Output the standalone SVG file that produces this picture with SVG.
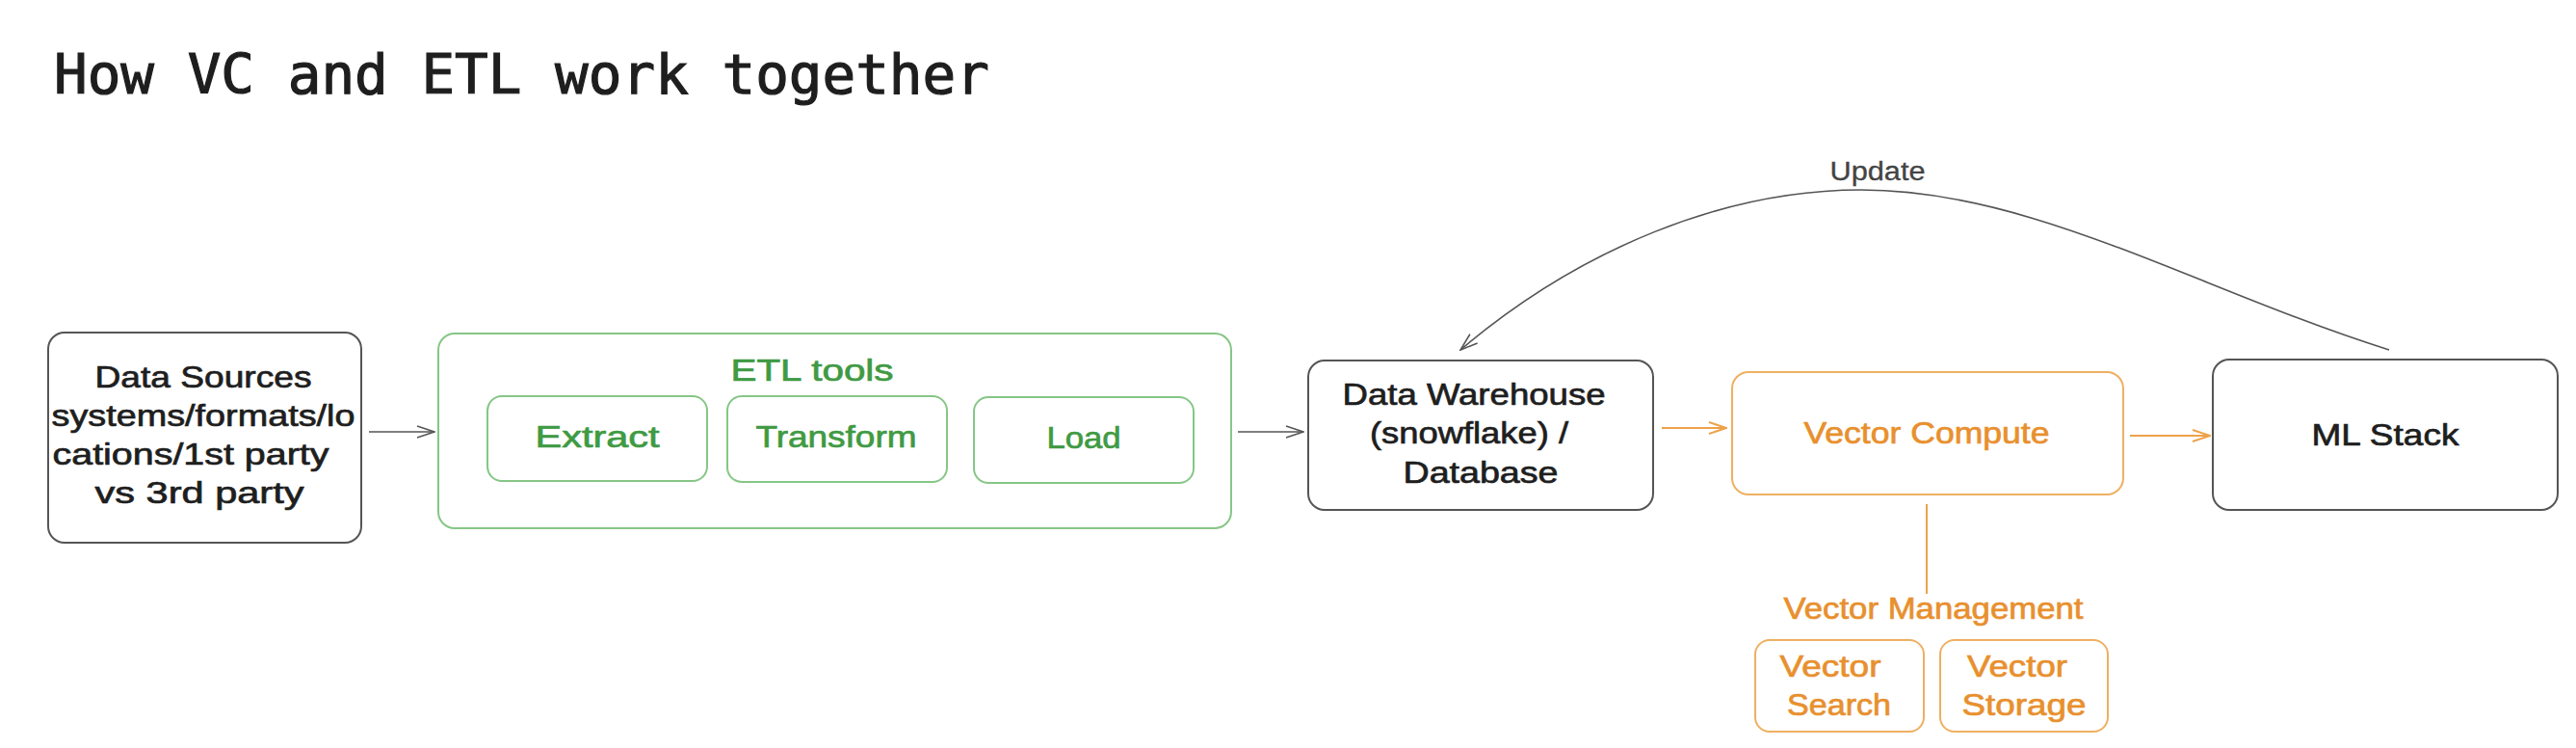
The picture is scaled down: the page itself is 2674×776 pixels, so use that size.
<svg xmlns="http://www.w3.org/2000/svg" width="2674" height="776" viewBox="0 0 2674 776">
<style>
.bg{fill:#ffffff}
.box{fill:#ffffff;stroke:#555555;stroke-width:2}
.gbox{fill:none;stroke:#86c686;stroke-width:2}
.obox{fill:none;stroke:#eeb062;stroke-width:2}
.t{font-family:"Liberation Sans",Arial,sans-serif;font-size:32px;fill:#1e1e1e;stroke:#1e1e1e;stroke-width:0.7;text-anchor:middle}
.g{fill:#3f9a43;stroke:#3f9a43}
.o{fill:#e8902e;stroke:#e8902e}
.title{font-family:"DejaVu Sans Mono",monospace;font-size:57.6px;fill:#1e1e1e;stroke:#1e1e1e;stroke-width:1.2}
.upd{font-size:27px;fill:#444444;stroke:#444444;stroke-width:0.3}
.ar{fill:none;stroke:#555555;stroke-width:1.6}
.oar{fill:none;stroke:#eda24a;stroke-width:2}
</style>
<defs>
<marker id="ah" viewBox="0 0 20 14" refX="19" refY="7" markerWidth="20" markerHeight="14" markerUnits="userSpaceOnUse" orient="auto-start-reverse">
<path d="M1,1 L19,7 L1,13" fill="none" stroke="#555555" stroke-width="1.6"/>
</marker>
<marker id="oah" viewBox="0 0 20 14" refX="19" refY="7" markerWidth="20" markerHeight="14" markerUnits="userSpaceOnUse" orient="auto">
<path d="M1,1 L19,7 L1,13" fill="none" stroke="#eda24a" stroke-width="2"/>
</marker>
</defs>
<rect class="bg" x="0" y="0" width="2674" height="776"/>
<text class="title" x="56" y="97">How VC and ETL work together</text>

<g id="connectors">
<line class="ar" x1="383" y1="448" x2="451" y2="448" marker-end="url(#ah)"/>
<line class="ar" x1="1285" y1="448" x2="1353" y2="448" marker-end="url(#ah)"/>
<line class="oar" x1="1725" y1="444" x2="1792" y2="444" marker-end="url(#oah)"/>
<line class="oar" x1="2211" y1="452" x2="2294" y2="452" marker-end="url(#oah)"/>
<line class="oar" x1="2000" y1="523" x2="2000" y2="616"/>
<path class="ar" d="M1516,363 C1640,258 1790,197 1932,197 C2110,197 2280,300 2480,363" stroke="#444444" stroke-width="2.4" marker-start="url(#ah)"/>
<text class="t upd" x="1949" y="187" textLength="99" lengthAdjust="spacingAndGlyphs">Update</text>
</g>

<g id="data-sources">
<rect class="box" x="50" y="345" width="325" height="218" rx="17"/>
<text class="t" x="211" y="402" textLength="225" lengthAdjust="spacingAndGlyphs">Data Sources</text>
<text class="t" x="211" y="442" textLength="315" lengthAdjust="spacingAndGlyphs">systems/formats/lo</text>
<text class="t" x="198" y="482" textLength="287" lengthAdjust="spacingAndGlyphs">cations/1st party</text>
<text class="t" x="207" y="522" textLength="217" lengthAdjust="spacingAndGlyphs">vs 3rd party</text>
</g>

<g id="etl-tools">
<rect class="gbox" x="455" y="346" width="823" height="202" rx="17"/>
<text class="t g" x="843" y="395" textLength="169" lengthAdjust="spacingAndGlyphs">ETL tools</text>
</g>
<g id="extract">
<rect class="gbox" x="506" y="411" width="228" height="88" rx="15"/>
<text class="t g" x="620" y="464" textLength="129" lengthAdjust="spacingAndGlyphs">Extract</text>
</g>
<g id="transform">
<rect class="gbox" x="755" y="411" width="228" height="89" rx="15"/>
<text class="t g" x="868" y="464" textLength="167" lengthAdjust="spacingAndGlyphs">Transform</text>
</g>
<g id="load">
<rect class="gbox" x="1011" y="412" width="228" height="89" rx="15"/>
<text class="t g" x="1125" y="465" textLength="77" lengthAdjust="spacingAndGlyphs">Load</text>
</g>

<g id="data-warehouse">
<rect class="box" x="1358" y="374" width="358" height="155" rx="17"/>
<text class="t" x="1530" y="420" textLength="273" lengthAdjust="spacingAndGlyphs">Data Warehouse</text>
<text class="t" x="1525" y="460" textLength="206" lengthAdjust="spacingAndGlyphs">(snowflake) /</text>
<text class="t" x="1537" y="501" textLength="161" lengthAdjust="spacingAndGlyphs">Database</text>
</g>

<g id="vector-compute">
<rect class="obox" x="1798" y="386" width="406" height="127" rx="17"/>
<text class="t o" x="2000" y="460" textLength="255" lengthAdjust="spacingAndGlyphs">Vector Compute</text>
</g>

<g id="ml-stack">
<rect class="box" x="2297" y="373" width="358" height="156" rx="17"/>
<text class="t" x="2476" y="462" textLength="153" lengthAdjust="spacingAndGlyphs">ML Stack</text>
</g>

<g id="vector-management">
<text class="t o" x="2007" y="642" textLength="311" lengthAdjust="spacingAndGlyphs">Vector Management</text>
</g>
<g id="vector-search">
<rect class="obox" x="1822" y="664" width="175" height="95" rx="15"/>
<text class="t o" x="1900" y="702" textLength="105" lengthAdjust="spacingAndGlyphs">Vector</text>
<text class="t o" x="1909" y="742" textLength="108" lengthAdjust="spacingAndGlyphs">Search</text>
</g>
<g id="vector-storage">
<rect class="obox" x="2014" y="664" width="174" height="95" rx="15"/>
<text class="t o" x="2094" y="702" textLength="104" lengthAdjust="spacingAndGlyphs">Vector</text>
<text class="t o" x="2101" y="742" textLength="129" lengthAdjust="spacingAndGlyphs">Storage</text>
</g>
</svg>
